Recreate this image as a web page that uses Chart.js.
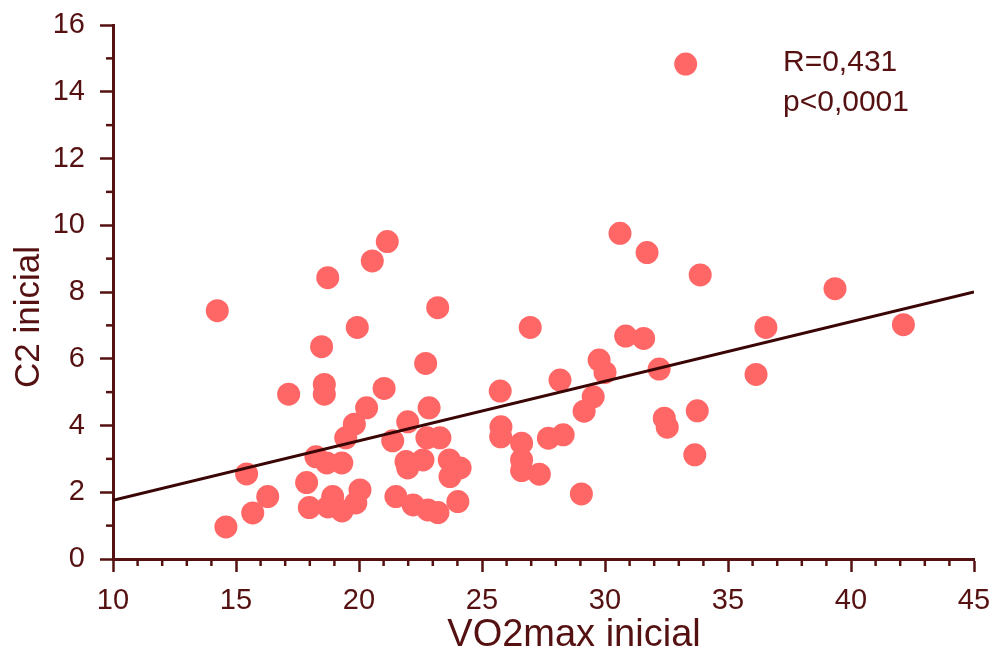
<!DOCTYPE html>
<html>
<head>
<meta charset="utf-8">
<script src="https://cdn.jsdelivr.net/npm/chart.js@4.4.1/dist/chart.umd.min.js"></script>
<style>
  html, body { margin: 0; padding: 0; background: #fff; }
  #wrap { width: 993px; height: 657px; position: relative; }
</style>
</head>
<body>
<div id="wrap"><canvas id="scatterChart"></canvas></div>
<script>
// valores (VO2max inicial x C2 inicial)
const vo2max = [
  14.24, 14.59, 15.43, 15.68, 16.29, 17.14, 17.87, 17.98, 18.25, 18.48,
  18.59, 18.59, 18.73, 18.69, 18.74, 18.93, 19.30, 19.31, 19.46, 19.81,
  19.87, 19.93, 20.04, 20.31, 20.54, 21.02, 21.15, 21.37, 21.50, 21.91,
  21.98, 21.98, 22.20, 22.60, 22.71, 22.76, 22.85, 22.80, 23.20, 23.21,
  23.29, 23.67, 23.70, 24.11, 24.02,
  25.74, 25.77, 25.76, 26.61, 26.61, 26.61, 26.96, 27.33, 27.70, 28.17,
  28.30, 29.04, 29.15, 29.52, 29.76, 30.00, 30.61, 30.84, 31.57, 31.71,
  32.20, 32.41, 32.53, 33.28, 33.65, 33.75, 33.87, 36.14, 36.54, 39.35,
  42.13
];
const c2 = [
  7.44, 0.96, 2.55, 1.38, 1.87, 4.94, 2.29, 1.54, 3.06, 6.36,
  5.23, 4.94, 8.43, 2.88, 1.56, 1.87, 2.88, 1.44, 3.63, 4.04,
  1.68, 6.94, 2.07, 4.53, 8.93, 5.11, 9.51, 3.54, 1.87, 2.92,
  2.73, 4.11, 1.62, 2.97, 5.86, 3.63, 4.53, 1.47, 7.53, 1.39,
  3.63, 2.97, 2.47, 2.73, 1.72,
  5.03, 3.96, 3.66, 3.47, 2.97, 2.65, 6.94, 2.54, 3.62, 5.36,
  3.72, 1.95, 4.43, 4.86, 5.96, 5.59, 9.76, 6.68, 6.61, 9.18,
  5.69, 4.22, 3.95, 14.83, 3.12, 4.44, 8.51, 5.53, 6.94, 8.10,
  7.02
];

// reta de regressão (extremos do eixo x)
const fitX = [10, 45];
const fitY = [1.76, 8.0];

const xTicks = [10, 15, 20, 25, 30, 35, 40, 45];
const yTicks = [0, 2, 4, 6, 8, 10, 12, 14, 16];

const statLines = ['R=0,431', 'p<0,0001'];
const xTitle = 'VO2max inicial';
const yTitle = 'C2 inicial';

const ink = '#551111';
const lineInk = '#3a0505';
const dotColor = '#ff6666';
const fontFamily = '"Liberation Sans", Arial, sans-serif';

// marcas secundárias (de 1 em 1) e textos extras
const extrasPlugin = {
  id: 'extras',
  afterDraw(chart) {
    const ctx = chart.ctx;
    const xs = chart.scales.x;
    const ys = chart.scales.y;
    const area = chart.chartArea;
    ctx.save();
    ctx.strokeStyle = ink;
    ctx.lineWidth = 2.5;
    for (let v = xs.min; v <= xs.max; v++) {
      if (v % 5 === 0) continue;
      const px = xs.getPixelForValue(v);
      ctx.beginPath();
      ctx.moveTo(px, area.bottom);
      ctx.lineTo(px, area.bottom + 7);
      ctx.stroke();
    }
    for (let v = ys.min; v <= ys.max; v++) {
      if (v % 2 === 0) continue;
      const py = ys.getPixelForValue(v);
      ctx.beginPath();
      ctx.moveTo(area.left, py);
      ctx.lineTo(area.left - 7, py);
      ctx.stroke();
    }

    ctx.fillStyle = ink;
    ctx.textAlign = 'left';
    ctx.textBaseline = 'alphabetic';
    ctx.font = '30px ' + fontFamily;
    statLines.forEach((t, i) => ctx.fillText(t, 783, 71 + i * 40));

    ctx.textAlign = 'center';
    ctx.textBaseline = 'middle';
    ctx.font = '38px ' + fontFamily;
    ctx.fillText(xTitle, 574, 636);

    ctx.translate(29, 317);
    ctx.rotate(-Math.PI / 2);
    ctx.font = '35px ' + fontFamily;
    ctx.fillText(yTitle, 0, 0);
    ctx.restore();
  }
};

// zera o espaço extra que a escala reserva para os rótulos das pontas
function noEdgePadding(s) {
  s.paddingTop = 0;
  s.paddingBottom = 0;
  s.paddingLeft = 0;
  s.paddingRight = 0;
}

function initChart() {
  const points = vo2max.map((x, i) => ({ x: x, y: c2[i] }));
  const fit = fitX.map((x, i) => ({ x: x, y: fitY[i] }));

  new Chart(document.getElementById('scatterChart'), {
    type: 'scatter',
    data: {
      datasets: [
        {
          type: 'line',
          data: fit,
          borderColor: lineInk,
          borderWidth: 3,
          pointRadius: 0,
          fill: false,
          order: 0
        },
        {
          data: points,
          backgroundColor: dotColor,
          borderWidth: 0,
          pointRadius: 11.5,
          pointHoverRadius: 11.5,
          order: 1
        }
      ]
    },
    options: {
      responsive: true,
      maintainAspectRatio: false,
      animation: false,
      events: [],
      layout: { padding: { left: 0, right: 19, top: 25, bottom: 0 } },
      plugins: { legend: { display: false }, tooltip: { enabled: false } },
      scales: {
        x: {
          type: 'linear',
          min: 10,
          max: 45,
          afterFit: s => { s.height = 98; noEdgePadding(s); },
          afterBuildTicks: s => { s.ticks = xTicks.map(v => ({ value: v })); },
          ticks: { color: ink, padding: 12, font: { size: 29, family: fontFamily } },
          grid: { display: true, drawOnChartArea: false, drawTicks: true, tickLength: 13, tickColor: ink, tickWidth: 2.5 },
          border: { display: true, color: ink, width: 3 }
        },
        y: {
          type: 'linear',
          min: 0,
          max: 16,
          afterFit: s => { s.width = 113; noEdgePadding(s); },
          afterBuildTicks: s => { s.ticks = yTicks.map(v => ({ value: v })); },
          ticks: { color: ink, padding: 15, font: { size: 29, family: fontFamily } },
          grid: { display: true, drawOnChartArea: false, drawTicks: true, tickLength: 13, tickColor: ink, tickWidth: 2.5 },
          border: { display: true, color: ink, width: 3 }
        }
      }
    },
    plugins: [extrasPlugin]
  });
}

document.addEventListener('DOMContentLoaded', initChart);
</script>
</body>
</html>
